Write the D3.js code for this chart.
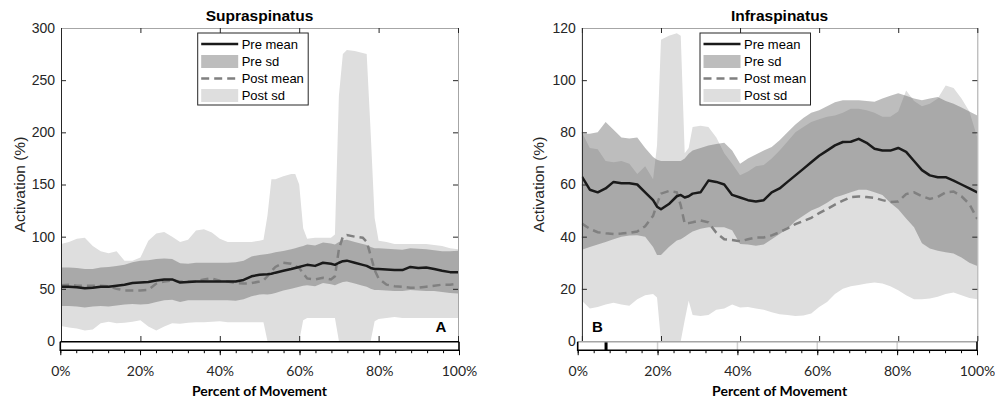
<!DOCTYPE html>
<html lang="en">
<head>
<meta charset="UTF-8">
<title>Supraspinatus / Infraspinatus</title>
<script src="https://d3js.org/d3.v7.min.js"></script>
<style>
  body { margin: 0; background: #fff; }
  svg { display: block; }
  .ytick text { font: 14px "Liberation Sans", Arial, sans-serif; fill: #262626; }
  .xtick text { font: 14px Lato, "Liberation Sans", sans-serif; fill: #262626; }
  .title { font: bold 15.5px "Liberation Sans", Arial, sans-serif; fill: #000; }
  .ylabel { font: 15.5px "Liberation Sans", Arial, sans-serif; fill: #262626; }
  .xlabel { font: bold 14px Lato, "Liberation Sans", sans-serif; fill: #000; }
  .legend text { font: 13px "Liberation Sans", Arial, sans-serif; fill: #000; }
  .tag { font: bold 15px "Liberation Sans", Arial, sans-serif; fill: #000; }
</style>
</head>
<body>
<svg width="995" height="402"></svg>
<script>
  // ---- Panel A: Supraspinatus ----
  const pctA = [0,2,4,6,8,10,12,14,16,18,20,22,24,26,28,30,32,34,36,38,40,42,44,46,48,50,51,52,53,54,56,58,59,60,61,62,64,66,68,69,70,71,72,74,76,77,78,79,80,82,84,86,88,90,92,94,96,98,100];
  const preMeanA = [52,52,51.5,50.5,51,52,52,53,54,55.5,56,56.5,58,59,59,56,56.5,57,57,57,57,57,57,58.5,62,63.5,63.8,64,64.5,65.5,67.3,69,70,71,72,73,72,75,74,73,75,76.5,77,75,73,72,70,69,69,68.5,68,68,71,70,70.5,69,67.3,66,66];
  const preLoA = [33.5,33.5,33,32,33,33.5,33,34,35,35.5,35,35.5,37.5,39,39.5,37.5,39,39,39,39,39,39,38.5,40,43,44.5,44.8,44.5,45,46,48.3,50,51,52,53,53.5,52.5,55.5,54.5,53.5,55,56.5,57,55,53,52,50,49,49,48.5,48,48,49,48.5,48,48,47,46,45.5];
  const preHiA = [70.5,70.5,70,69,69,70.5,71,72,73,75.5,77,77.5,78.5,79,78.5,74.5,74,75,75,75,75,75,75.5,77,81,82.5,82.8,83.5,84,85,86.3,88,89,90,91,92.5,91.5,94.5,93.5,92.5,95,96.5,97,95,93,92,90,89,89,88.5,88,87.5,89,88.5,88,87,86,86,86.5];
  const postMeanA = [53.5,54,53,53,53,53,52.5,50,48.5,48.5,48.5,49,55,57,58,57,57,57,59,60,57.7,57,55.5,55,55.5,57,58,62,67,71,75,74,72,70,65,60,59,60.5,59,62,88,100,101.5,100,99,95,82,68,60,54,52.5,52,51,51,52,53,54,54,55];
  const postLoA = [14.4,13,12,10,11,17,18.5,17,17.5,18.5,20,14,10,14,17,16.6,17.6,18,18,18.5,19,18,18,18,18,18,18,0,0,0,0,0,0,0,20,22,22,22,22,22,0,0,0,0,0,0,0,19,21,22,23,22,22,22,22,22,22,22,22];
  const postHiA = [93,95,98,99,91,86,84,86,77,77,80,96,103,104.5,100,95,97,106,107,104,98,95,95,95,95,96,97,120,155,155,158,160,160,150,108,98,99,99,99,102,235,275,279,278,276,275,200,118,96,95,93,93,93,93,93,92,91,89,88];
  const yTicksA = [0,50,100,150,200,250,300];

  // ---- Panel B: Infraspinatus ----
  const pctB = [0,2,4,6,8,10,12,14,16,18,19,20,22,24,25,26,27,28,30,32,34,36,38,40,42,44,46,48,50,52,54,56,58,60,62,64,66,68,70,72,74,76,78,80,82,84,86,88,90,92,94,96,98,100];
  const preMeanB = [63,58,57,58.5,61,60.5,60.5,60,57,54,51.5,50.5,52.5,55.5,56,55,55.5,56.5,57,61.5,61,60,56,55,54,53.5,54,57,58.5,61,63.5,66,68.5,71,73,75,76.3,76.4,77.5,76,73.7,73,73,74,72.5,69,65.5,63.5,62.8,62.8,61.5,60,58.5,57];
  const preLoB = [35,36,37,38,39,40,40.4,40.5,40,36,33,33,36,38.5,39,40,41,42,43,43.6,43.6,43.6,42.5,37.2,37,36.5,37,39,41,43,46,48,50,51.3,53,55,56,57,58,58,57,56,53,50.5,47,43.6,37.5,35.5,34.6,34,33.5,32,30,28.8];
  const preHiB = [79.5,79.5,80,84,81,78,77.6,78,74,70.5,69.5,69,69,69,69,70,71.8,73,74,75,75.5,76,73,68,70,71.5,73,74.4,77,80,83,85.5,87.5,88.5,90,91.5,92.3,92.3,92.3,92,91.7,93,94,95,94,93,92.3,93,93.5,92,91,89.5,88,86.5];
  const postMeanB = [45,43,41.7,41.3,41,41.2,41.5,42,44,48,52.6,56.5,57.5,57,52,45,45.2,45.5,46.2,45.5,41.5,39,38.7,38.2,39,39.7,39.7,40.5,41.7,43.2,44.8,46,47.2,49,50.6,52.3,53.8,55.2,55.4,55.2,54.9,54,53.3,53.5,56.3,57,55.5,54.5,55.2,57,57.3,55.5,52.5,46.8];
  const postLoB = [15.4,12.5,13,14,14.7,14,13.5,16,17.5,18,16.7,0,0,0,0,8,15.4,10,9.6,10,12,12.5,14,12.8,13,12.5,12,11,10.3,10,9.6,9.8,10.5,13,15,18,20,21,21.5,22,22.4,22,21,19.5,17.5,16,16,16.3,17,18,18.6,17.5,16.5,16];
  const postHiB = [80,74,73.5,69,68.5,69,68,64,67,62,75,115.5,117,118,117,72,74,82,82.5,82,78,72,68,63.5,65,67,67.5,70,73,76.5,80,82,84,85,86,86.5,87.5,89,89,88.5,87.5,86,86,88,96,92,90,91,93,98,97,93,88,78];
  const yTicksB = [0,20,40,60,80,100,120];

  const xTicks = [0,20,40,60,80,100];
  const minorTicks = [0,4,8,12,16,20,24,28,32,36,40,44,48,52,56,60,64,68,72,76,80,84,88,92,96,100];
  const legendLabels = ["Pre mean", "Pre sd", "Post mean", "Post sd"];
  const barMarksB = [7.1]; // position marker in the lower bar of panel B

  const svg = d3.select("svg");
  const defs = svg.append("defs");

  const TOP = 28, BOTTOM = 341;

  const panels = [
    { key: "A", title: "Supraspinatus", pct: pctA,
      preMean: preMeanA, preLo: preLoA, preHi: preHiA,
      postMean: postMeanA, postLo: postLoA, postHi: postHiA,
      yMax: 300, yTicks: yTicksA, left: 61, right: 458,
      barLeft: 60.3, barRight: 459, legX: 197.7, tagX: 441, ylabX: 20,
      barTop: "#000", barGrid: false, marks: [] },
    { key: "B", title: "Infraspinatus", pct: pctB,
      preMean: preMeanB, preLo: preLoB, preHi: preHiB,
      postMean: postMeanB, postLo: postLoB, postHi: postHiB,
      yMax: 120, yTicks: yTicksB, left: 581.9, right: 977.3,
      barLeft: 577.7, barRight: 977, legX: 700, tagX: 597.5, ylabX: 539,
      barTop: "#a6a6a6", barGrid: true, marks: barMarksB }
  ];

  panels.forEach(drawPanel);

  function drawPanel(p) {
    const x = d3.scaleLinear().domain([0, 100]).range([p.left, p.right]);
    const y = d3.scaleLinear().domain([0, p.yMax]).range([BOTTOM, TOP]);
    const rows = p.pct.map((v, i) => ({
      p: v, preMean: p.preMean[i], preLo: p.preLo[i], preHi: p.preHi[i],
      postMean: p.postMean[i], postLo: p.postLo[i], postHi: p.postHi[i]
    }));

    defs.append("clipPath").attr("id", "clip" + p.key)
      .append("rect")
      .attr("x", p.left).attr("y", TOP)
      .attr("width", p.right - p.left).attr("height", BOTTOM - TOP);

    const g = svg.append("g");
    const plot = g.append("g").attr("clip-path", `url(#clip${p.key})`);

    const band = (lo, hi) => d3.area()
      .x(d => x(d.p)).y0(d => y(d[lo])).y1(d => y(d[hi]));
    const line = key => d3.line().x(d => x(d.p)).y(d => y(d[key]));

    plot.append("path").datum(rows)
      .attr("d", band("postLo", "postHi"))
      .attr("fill", "#dedede");
    plot.append("path").datum(rows)
      .attr("d", band("preLo", "preHi"))
      .attr("fill", "#5a5a5a").attr("fill-opacity", 0.4);
    plot.append("path").datum(rows)
      .attr("d", line("postMean"))
      .attr("fill", "none").attr("stroke", "#808080")
      .attr("stroke-width", 2.5).attr("stroke-dasharray", "8,5");
    plot.append("path").datum(rows)
      .attr("d", line("preMean"))
      .attr("fill", "none").attr("stroke", "#1a1a1a")
      .attr("stroke-width", 2.5).attr("stroke-linejoin", "round");

    // box axes
    const yl = g.append("g").attr("class", "ytick")
      .attr("transform", `translate(${p.left},0)`)
      .call(d3.axisLeft(y).tickValues(p.yTicks).tickSizeInner(-5).tickSizeOuter(0).tickPadding(6));
    yl.select(".domain").attr("stroke", "#262626");
    yl.selectAll(".tick line").attr("stroke", "#262626");

    const yr = g.append("g")
      .attr("transform", `translate(${p.right},0)`)
      .call(d3.axisRight(y).tickValues(p.yTicks).tickSizeInner(-5).tickSizeOuter(0).tickFormat(""));
    yr.select(".domain").attr("stroke", "#a6a6a6");
    yr.selectAll(".tick line").attr("stroke", "#262626");

    const xt = g.append("g")
      .attr("transform", `translate(0,${TOP})`)
      .call(d3.axisTop(x).tickValues(xTicks).tickSizeInner(-5).tickSizeOuter(0).tickFormat(""));
    xt.select(".domain").attr("stroke", "#a6a6a6");
    xt.selectAll(".tick line").attr("stroke", "#262626");

    const xb = g.append("g")
      .attr("transform", `translate(0,${BOTTOM})`)
      .call(d3.axisBottom(x).tickValues(xTicks).tickSizeInner(-5).tickSizeOuter(0).tickFormat(""));
    xb.select(".domain").attr("stroke", "#262626");
    xb.selectAll(".tick line").attr("stroke", "#262626");

    // movement bar under the plot
    const xbar = d3.scaleLinear().domain([0, 100]).range([p.barLeft, p.barRight]);
    const bTop = 341.8, bBot = 350.2;
    g.append("rect")
      .attr("x", p.barLeft).attr("y", bTop)
      .attr("width", p.barRight - p.barLeft).attr("height", bBot - bTop)
      .attr("fill", "#fff");
    if (p.barGrid) {
      g.selectAll(".bargrid").data(xTicks.slice(1, -1)).join("line")
        .attr("x1", d => xbar(d)).attr("x2", d => xbar(d))
        .attr("y1", bTop).attr("y2", bBot)
        .attr("stroke", "#d0d0d0").attr("stroke-width", 1.5);
    }
    g.selectAll(".barmark").data(p.marks).join("line")
      .attr("x1", d => xbar(d)).attr("x2", d => xbar(d))
      .attr("y1", bTop).attr("y2", bBot)
      .attr("stroke", "#000").attr("stroke-width", 3);
    g.append("line")
      .attr("x1", p.barLeft).attr("x2", p.barRight).attr("y1", bTop).attr("y2", bTop)
      .attr("stroke", p.barTop).attr("stroke-width", 1.6);
    g.append("path")
      .attr("d", `M${p.barLeft},${bTop}V${bBot}H${p.barRight}V${bTop}`)
      .attr("fill", "none").attr("stroke", "#000").attr("stroke-width", 1.6);

    g.append("g")
      .attr("transform", `translate(0,${bBot})`)
      .call(d3.axisBottom(xbar).tickValues(minorTicks).tickSize(3).tickFormat(""))
      .call(s => s.select(".domain").remove())
      .selectAll(".tick line").attr("stroke", "#000");
    const xlab = g.append("g").attr("class", "xtick")
      .attr("transform", `translate(0,${bBot})`)
      .call(d3.axisBottom(xbar).tickValues(xTicks).tickSize(5).tickPadding(11).tickFormat(d => d + "%"));
    xlab.select(".domain").remove();
    xlab.selectAll(".tick line").attr("stroke", "#000");

    // texts
    const cx = (p.left + p.right) / 2;
    g.append("text").attr("class", "title")
      .attr("x", cx).attr("y", 21).attr("text-anchor", "middle").text(p.title);
    g.append("text").attr("class", "ylabel")
      .attr("transform", `translate(${p.ylabX + 5},${(TOP + BOTTOM) / 2}) rotate(-90)`)
      .attr("text-anchor", "middle").text("Activation (%)");
    g.append("text").attr("class", "xlabel")
      .attr("x", cx).attr("y", 396).attr("text-anchor", "middle").text("Percent of Movement");
    g.append("text").attr("class", "tag")
      .attr("x", p.tagX).attr("y", 332).attr("text-anchor", "middle").text(p.key);

    // legend
    const lg = g.append("g").attr("class", "legend")
      .attr("transform", `translate(${p.legX},33)`);
    lg.append("rect").attr("width", 110.5).attr("height", 72)
      .attr("fill", "#fff").attr("stroke", "#262626").attr("stroke-width", 1);
    const rowY = [11, 28.5, 45.5, 62.5];
    lg.append("line").attr("x1", 3.5).attr("x2", 40.5).attr("y1", rowY[0]).attr("y2", rowY[0])
      .attr("stroke", "#1a1a1a").attr("stroke-width", 2.5);
    lg.append("rect").attr("x", 3.5).attr("y", rowY[1] - 6.5).attr("width", 37).attr("height", 13)
      .attr("fill", "#5a5a5a").attr("fill-opacity", 0.4);
    lg.append("line").attr("x1", 3.5).attr("x2", 40.5).attr("y1", rowY[2]).attr("y2", rowY[2])
      .attr("stroke", "#808080").attr("stroke-width", 2.5).attr("stroke-dasharray", "8,5");
    lg.append("rect").attr("x", 3.5).attr("y", rowY[3] - 6.5).attr("width", 37).attr("height", 13)
      .attr("fill", "#dedede");
    lg.selectAll("text").data(legendLabels).join("text")
      .attr("x", 44).attr("y", (d, i) => rowY[i] + 4.5).text(d => d);
  }
</script>
</body>
</html>
